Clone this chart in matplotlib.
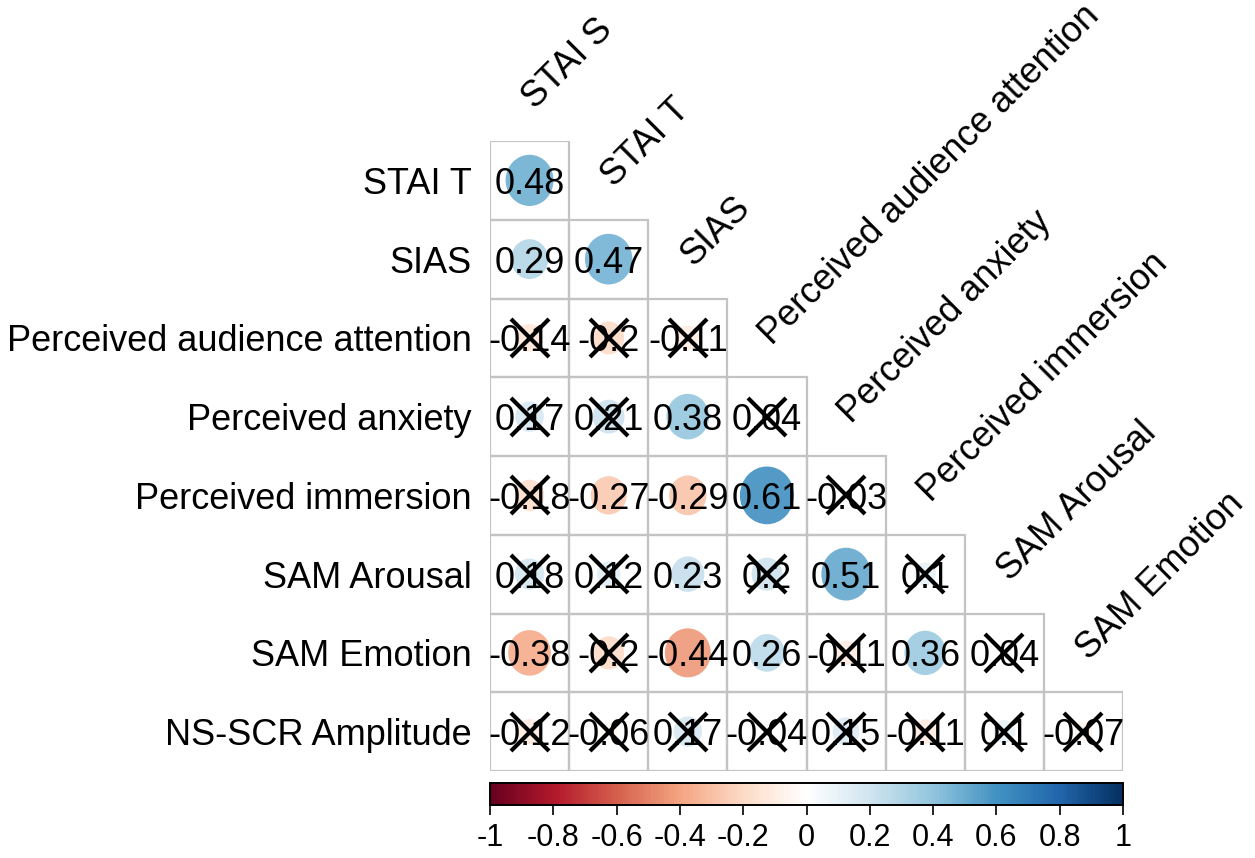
import numpy as np
import matplotlib
matplotlib.use("Agg")
import matplotlib.pyplot as plt
from matplotlib.patches import Rectangle, Ellipse
from matplotlib import cm, colors

plt.rcParams['font.family'] = ['Liberation Sans', 'DejaVu Sans']

row_labels = ["STAI T", "SIAS", "Perceived audience attention", "Perceived anxiety",
              "Perceived immersion", "SAM Arousal", "SAM Emotion", "NS-SCR Amplitude"]
col_labels = ["STAI S", "STAI T", "SIAS", "Perceived audience attention",
              "Perceived anxiety", "Perceived immersion", "SAM Arousal", "SAM Emotion"]

r_stai_t = [0.48]
r_sias = [0.29, 0.47]
r_paa = [-0.14, -0.2, -0.11]
r_panx = [0.17, 0.21, 0.38, 0.04]
r_pimm = [-0.18, -0.27, -0.29, 0.61, -0.03]
r_arousal = [0.18, 0.12, 0.23, 0.2, 0.51, 0.1]
r_emotion = [-0.38, -0.2, -0.44, 0.26, -0.11, 0.36, 0.04]
r_nsscr = [-0.12, -0.06, 0.17, -0.04, 0.15, -0.11, 0.1, -0.07]
rows = [r_stai_t, r_sias, r_paa, r_panx, r_pimm, r_arousal, r_emotion, r_nsscr]

# 1 = significant (no cross), 0 = non-significant (crossed)
s_stai_t = [1]
s_sias = [1, 1]
s_paa = [0, 0, 0]
s_panx = [0, 0, 1, 0]
s_pimm = [0, 1, 1, 1, 0]
s_arousal = [0, 0, 1, 0, 1, 0]
s_emotion = [1, 0, 1, 1, 0, 1, 0]
s_nsscr = [0, 0, 0, 0, 0, 0, 0, 0]
sig = [s_stai_t, s_sias, s_paa, s_panx, s_pimm, s_arousal, s_emotion, s_nsscr]

cbar_ticks = [-1, -0.8, -0.6, -0.4, -0.2, 0, 0.2, 0.4, 0.6, 0.8, 1]

palette = ["#67001F", "#B2182B", "#D6604D", "#F4A582", "#FDDBC7", "#FFFFFF",
           "#D1E5F0", "#92C5DE", "#4393C3", "#2166AC", "#053061"]

W, H = 1255, 858
fig = plt.figure(figsize=(W / 100, H / 100), dpi=100)
fig.patch.set_facecolor("white")

def fx(px):
    return px / W

def fy(py):
    return 1 - py / H

gl, gr, gt, gb = 490, 1123, 141, 771
ax = fig.add_axes([fx(gl), fy(gb), fx(gr) - fx(gl), fy(gt) - fy(gb)])
n = len(rows)
ax.set_xlim(0, n)
ax.set_ylim(n, 0)
ax.axis("off")

cmap = colors.LinearSegmentedColormap.from_list("corr_rdbu", palette, N=200)
norm = colors.Normalize(-1, 1)

for i, vals in enumerate(rows):
    for j, v in enumerate(vals):
        ax.add_patch(Rectangle((j, i), 1, 1, fill=False, edgecolor="#C3C3C3", lw=1.6, zorder=1))
        d = 0.92 * np.sqrt(abs(v))
        ax.add_patch(Ellipse((j + 0.5, i + 0.5), d * 0.95, d * 1.02, facecolor=cmap(norm(v)),
                             edgecolor="none", alpha=0.9, zorder=2))
        ax.text(j + 0.5, i + 0.5, f"{v:g}", ha="center", va="center_baseline",
                fontsize=26, color="black", zorder=4)
        if not sig[i][j]:
            ax.plot([j + 0.5], [i + 0.5], marker="x", markersize=28, mew=3.0,
                    color="black", zorder=5)

for i, lab in enumerate(row_labels):
    ax.text(-0.23, i + 0.5, lab, ha="right", va="center_baseline", fontsize=26,
            color="black", clip_on=False)

for j, lab in enumerate(col_labels):
    ax.text(j + 0.57, j - 0.4, lab, ha="left", va="baseline", rotation=45,
            rotation_mode="anchor", fontsize=26, color="black", clip_on=False)

cax = fig.add_axes([fx(gl), fy(805), fx(gr) - fx(gl), fy(783) - fy(805)])
sm = cm.ScalarMappable(norm=norm, cmap=cmap)
cb = fig.colorbar(sm, cax=cax, orientation="horizontal", ticks=cbar_ticks)
cb.ax.tick_params(length=7, width=1.2, direction="out", pad=6)
cb.ax.set_xticklabels([f"{t:g}" for t in cbar_ticks], fontsize=22)
cb.outline.set_linewidth(1.4)
cb.outline.set_edgecolor("black")

fig.savefig("out.png", dpi=100, facecolor="white")
